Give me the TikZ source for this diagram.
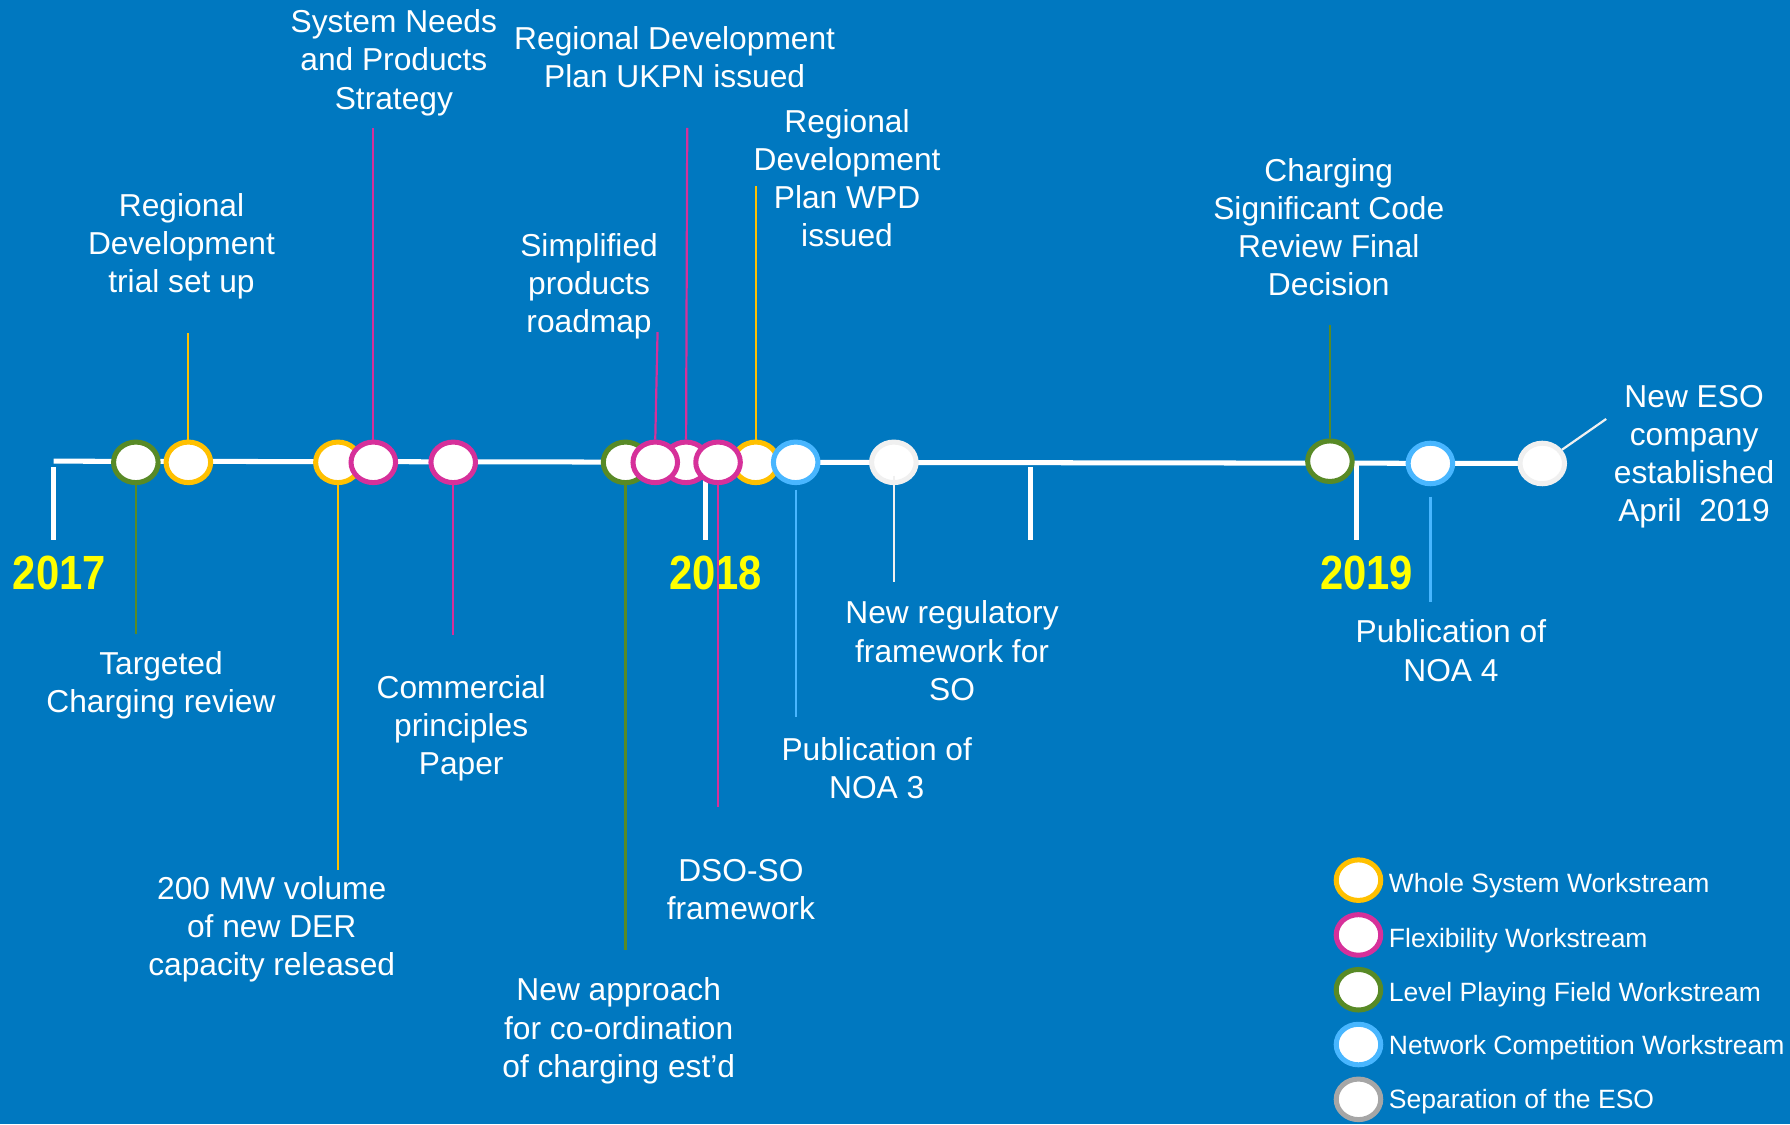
\documentclass[tikz,border=0pt]{standalone}
\usepackage{fontspec}
\setmainfont{Liberation Sans}
\usetikzlibrary{shapes.geometric}
\definecolor{bg}{RGB}{0,120,192}
\definecolor{cyel}{RGB}{255,192,0}
\definecolor{cpink}{RGB}{214,48,154}
\definecolor{cgreen}{RGB}{88,138,38}
\definecolor{cblue}{RGB}{72,182,255}
\definecolor{csep}{RGB}{240,240,240}
\definecolor{csepleg}{RGB}{166,166,166}
\definecolor{yr}{RGB}{255,255,0}
\begin{document}
\begin{tikzpicture}[x=0.01cm,y=-0.01cm,
  ms/.style={ellipse, draw=#1, fill=white, line width=1.25pt, minimum width=0.39cm, minimum height=0.355cm, inner sep=0pt},
  conn/.style={draw=#1, line width=0.55pt},
  lbl/.style={text=white, align=center, font=\fontsize{7.9}{9.5}\selectfont, inner sep=0pt},
  yearlbl/.style={text=yr, font=\fontsize{10.4}{12}\selectfont\bfseries, inner sep=0pt},
  leg/.style={text=white, font=\fontsize{6.6}{8}\selectfont, anchor=west, inner sep=0pt},
  tl/.style={draw=white, line width=1.25pt},
]
\path[use as bounding box, fill=bg] (0,0) rectangle (1568,985);

% timeline
\coordinate (tlA) at (47,404);
\coordinate (tlB) at (1351,406);
\draw[tl] (tlA) -- (tlB);
\coordinate (k1a) at (47,409);   \coordinate (k1b) at (47,473);
\coordinate (k2a) at (618,420);  \coordinate (k2b) at (618,473);
\coordinate (k3a) at (903,409);  \coordinate (k3b) at (903,473);
\coordinate (k4a) at (1188,406); \coordinate (k4b) at (1188,473);
\draw[tl] (k1a) -- (k1b);
\draw[tl] (k2a) -- (k2b);
\draw[tl] (k3a) -- (k3b);
\draw[tl] (k4a) -- (k4b);

% years
\node[yearlbl] (y17) at (52,502) {\scalebox{1}[1.15]{2017}};
\node[yearlbl] (y18) at (627,502) {\scalebox{1}[1.15]{2018}};
\node[yearlbl] (y19) at (1197,502) {\scalebox{1}[1.15]{2019}};

% milestones (drawing order handles overlaps)
\node[ms=cgreen] (c1) at (119,405) {};
\node[ms=cyel] (c2) at (165,405) {};
\node[ms=cyel] (c3) at (296,405) {};
\node[ms=cpink] (c4) at (327,405) {};
\node[ms=cpink] (c5) at (397,405) {};
\node[ms=cgreen] (c6) at (548,405) {};
\node[ms=cpink] (c8) at (601,405) {};
\node[ms=cyel] (c10) at (662,405) {};
\node[ms=cpink] (c7) at (574,405) {};
\node[ms=cpink] (c9) at (629,405) {};
\node[ms=cblue] (c11) at (697,405) {};
\node[ms=csep] (c12) at (783,405) {};
\node[ms=cgreen] (c13) at (1165,404) {};
\node[ms=cblue] (c14) at (1253,406) {};
\node[ms=csep] (c15) at (1351,406) {};

% connector ends
\coordinate (e1) at (119,555);
\coordinate (e2) at (165,292);
\coordinate (e3) at (296,762);
\coordinate (e4) at (327,112);
\coordinate (e5) at (397,556);
\coordinate (e6) at (548,832);
\coordinate (e7) at (576,291);
\coordinate (e8) at (602,112);
\coordinate (e9) at (629,707);
\coordinate (e10) at (662,163);
\coordinate (e11) at (697,628);
\coordinate (e12) at (783,510);
\coordinate (e13) at (1165,285);
\coordinate (e14) at (1253,527);
\coordinate (e15) at (1407,367);

\draw[conn=cgreen] (c1.south) -- (e1);
\draw[conn=cyel] (c2.north) -- (e2);
\draw[conn=cyel] (c3.south) -- (e3);
\draw[conn=cpink] (c4.north) -- (e4);
\draw[conn=cpink] (c5.south) -- (e5);
\draw[conn=cgreen] (c6.south) -- (e6);
\draw[conn=cpink] (c7.north) -- (e7);
\draw[conn=cpink] (c8.north) -- (e8);
\draw[conn=cpink] (c9.south) -- (e9);
\draw[conn=cyel] (c10.north) -- (e10);
\draw[conn=cblue] (c11.south) ++(0,4) -- (e11);
\draw[conn=csep] (c12.south) ++(0,-8) -- (e12);
\draw[conn=cgreen] (c13.north) -- (e13);
\draw[conn=cblue] (c14.south) ++(0,9) -- (e14);
\draw[conn=csep] (c15) -- (e15);

% labels
\node[lbl] (l1) at (141,600) {Targeted\\Charging review};
\node[lbl] (l2) at (159,216) {Regional\\Development\\trial set up};
\node[lbl] (l3) at (238,814) {200 MW volume\\of new DER\\capacity released};
\node[lbl] (l4) at (345,55) {System Needs\\and Products\\Strategy};
\node[lbl] (l5) at (404,638) {Commercial\\principles\\Paper};
\node[lbl] (l6) at (542,903) {New approach\\for co-ordination\\of charging est’d};
\node[lbl] (l7) at (516,251) {Simplified\\products\\roadmap};
\node[lbl] (l8) at (591,50) {Regional Development\\Plan UKPN issued};
\node[lbl] (l9) at (649,779) {DSO-SO\\framework};
\node[lbl] (l10) at (742,156) {Regional\\Development\\Plan WPD\\issued};
\node[lbl] (l11) at (768,673) {Publication of\\NOA 3};
\node[lbl] (l12) at (834,570) {New regulatory\\framework for\\SO};
\node[lbl] (l13) at (1164,199) {Charging\\Significant Code\\Review Final\\Decision};
\node[lbl] (l14) at (1271,570) {Publication of\\NOA 4};
\node[lbl] (l15) at (1484,400) {New ESO\\company\\established\\April~ 2019};

% legend
\node[ms=cyel] (g1) at (1190,771) {};
\node[ms=cpink] (g2) at (1190,819) {};
\node[ms=cgreen] (g3) at (1190,867) {};
\node[ms=cblue] (g4) at (1190,915) {};
\node[ms=csepleg] (g5) at (1190,963) {};
\node[leg] (gt1) at (1216,776) {Whole System Workstream};
\node[leg] (gt2) at (1216,824) {Flexibility Workstream};
\node[leg] (gt3) at (1216,871) {Level Playing Field Workstream};
\node[leg] (gt4) at (1216,918) {Network Competition Workstream};
\node[leg] (gt5) at (1216,965) {Separation of the ESO};
\end{tikzpicture}
\end{document}
